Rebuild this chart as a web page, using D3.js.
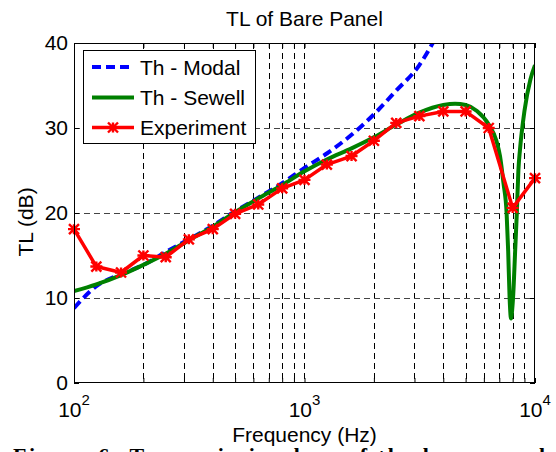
<!DOCTYPE html>
<html><head><meta charset="utf-8">
<script src="https://cdn.jsdelivr.net/npm/d3@7"></script>
<style>
html,body{margin:0;padding:0;background:#fff;}
svg{display:block;}
text{font-family:"Liberation Sans",Arial,Helvetica,sans-serif;fill:#000;}
</style></head>
<body>
<script>
// ---------- data ----------
const modalFreq = [100,125,160,200,250,315,400,500,630,800,1000,1250,1600,2000,2500,3150,3600,3800];
const modalTL   = [8.8,11.4,12.8,13.9,15.4,16.9,18.5,20.2,21.8,23.5,25.3,27.0,29.2,31.6,34.4,37.4,40.0,41.2];

const sewellFreq = [100,125,160,200,250,315,400,500,630,800,1000,1250,1600,2000,2500,3150,4000,4500,5000,5600,6300,6800,7050,7300,7530,7650,7760,7870,7960,8050,8200,8340,8470,8610,9000,9550,10000];
const sewellTL   = [10.8,11.6,12.7,13.9,15.2,16.8,18.4,20.1,21.7,23.3,24.9,26.3,27.6,28.9,30.4,31.8,32.7,32.85,32.7,32.0,30.4,28.5,26.7,23.5,20.0,15.5,10.0,7.6,8.6,10.5,15.5,20.0,25.0,27.5,32.0,35.7,37.4];

const expFreq = [100,125,160,200,250,315,400,500,630,800,1000,1250,1600,2000,2500,3150,4000,5000,6300,8000,10000];
const expTL   = [18.1,13.7,13.0,15.0,14.8,16.9,18.1,19.9,21.0,22.9,23.9,25.7,26.7,28.5,30.6,31.4,31.95,31.95,30.0,20.6,24.1];

const yTicks = [0,10,20,30,40];
const xMajor = [100,1000,10000];
const xMajorExp = ["2","3","4"];
const xMinor = [200,300,400,500,600,700,800,900,2000,3000,4000,5000,6000,7000,8000,9000];
const legendLabels = ["Th - Modal","Th - Sewell","Experiment"];
const colors = ["#0000ff","#008000","#ff0000"];

// ---------- layout ----------
const W = 556, H = 452;
const L = 74, R = 535, T = 43, B = 383;
const svg = d3.select("body").append("svg").attr("width",W).attr("height",H);

const x = d3.scaleLog().domain([100,10000]).range([L,R]);
const y = d3.scaleLinear().domain([0,40]).range([B,T]);

svg.append("defs").append("clipPath").attr("id","clip")
  .append("rect").attr("x",L).attr("y",T).attr("width",R-L).attr("height",B-T);

// grid
const grid = svg.append("g");
grid.selectAll("line.v").data(xMinor.concat([1000])).enter().append("line")
  .attr("x1",d=>Math.round(x(d))+0.5).attr("x2",d=>Math.round(x(d))+0.5)
  .attr("y1",T).attr("y2",B)
  .attr("stroke","#000").attr("stroke-width",1).attr("stroke-dasharray","6,4");
grid.selectAll("line.h").data([10,20,30]).enter().append("line")
  .attr("x1",L).attr("x2",R)
  .attr("y1",d=>Math.round(y(d))+0.5).attr("y2",d=>Math.round(y(d))+0.5)
  .attr("stroke","#444").attr("stroke-width",1).attr("stroke-dasharray","6,4");

// axes ticks
const allX = xMajor.concat(xMinor);
svg.append("g").attr("transform",`translate(0,${B})`)
  .call(d3.axisBottom(x).tickValues(allX).tickSize(-5).tickFormat(""))
  .call(g=>{g.select(".domain").remove(); g.selectAll("line").attr("stroke","#000");});
svg.append("g").attr("transform",`translate(0,${T})`)
  .call(d3.axisTop(x).tickValues(allX).tickSize(-5).tickFormat(""))
  .call(g=>{g.select(".domain").remove(); g.selectAll("line").attr("stroke","#000");});
svg.append("g").attr("transform",`translate(${L},0)`)
  .call(d3.axisLeft(y).tickValues(yTicks).tickSize(-5).tickPadding(6).tickFormat(d3.format("d")))
  .call(g=>{g.select(".domain").remove(); g.selectAll("line").attr("stroke","#000");
    g.selectAll("text").attr("font-size",21).attr("font-family","Liberation Sans, Arial, sans-serif").attr("fill","#000");});
svg.append("g").attr("transform",`translate(${R},0)`)
  .call(d3.axisRight(y).tickValues(yTicks).tickSize(-5).tickFormat(""))
  .call(g=>{g.select(".domain").remove(); g.selectAll("line").attr("stroke","#000");});

// x labels 10^n
xMajor.forEach((v,i)=>{
  const t = svg.append("text").attr("x",x(v)).attr("y",417).attr("text-anchor","middle").attr("font-size",21);
  t.append("tspan").text("10");
  t.append("tspan").attr("dy",-12).attr("font-size",15).text(xMajorExp[i]);
});

// lines
const plot = svg.append("g").attr("clip-path","url(#clip)");
const modalData = modalFreq.map((f,i)=>[f,modalTL[i]]);
const sewellData = sewellFreq.map((f,i)=>[f,sewellTL[i]]);
const expData = expFreq.map((f,i)=>[f,expTL[i]]);

plot.append("path").datum(modalData).attr("d",d3.line().x(d=>x(d[0])).y(d=>y(d[1])).curve(d3.curveMonotoneX))
  .attr("fill","none").attr("stroke",colors[0]).attr("stroke-width",4).attr("stroke-dasharray","9,5");
plot.append("path").datum(sewellData).attr("d",d3.line().x(d=>x(d[0])).y(d=>y(d[1])).curve(d3.curveMonotoneX))
  .attr("fill","none").attr("stroke",colors[1]).attr("stroke-width",4).attr("stroke-linejoin","round");
plot.append("path").datum(expData).attr("d",d3.line().x(d=>x(d[0])).y(d=>y(d[1])))
  .attr("fill","none").attr("stroke",colors[2]).attr("stroke-width",3.5).attr("stroke-linejoin","round");

function star(g,cx,cy){
  const s=5;
  const p = `M${cx-s},${cy-s}L${cx+s},${cy+s}M${cx-s},${cy+s}L${cx+s},${cy-s}M${cx-s-1},${cy}L${cx+s+1},${cy}M${cx},${cy-s}L${cx},${cy+s}`;
  g.append("path").attr("d",p).attr("stroke",colors[2]).attr("stroke-width",2.4).attr("fill","none");
}
const mk = svg.append("g");
expData.forEach(d=>star(mk,x(d[0]),y(d[1])));

// box
svg.append("rect").attr("x",L+0.5).attr("y",T+0.5).attr("width",R-L-1).attr("height",B-T-1)
  .attr("fill","none").attr("stroke","#000").attr("stroke-width",1);

// legend
const lg = svg.append("g");
lg.append("rect").attr("x",83.5).attr("y",50.5).attr("width",172).attr("height",93)
  .attr("fill","#fff").attr("stroke","#000").attr("stroke-width",1);
const rowsY = [67,97.5,127.5];
legendLabels.forEach((lab,i)=>{
  const ln = lg.append("line").attr("x1",92).attr("x2",134).attr("y1",rowsY[i]).attr("y2",rowsY[i])
    .attr("stroke",colors[i]).attr("stroke-width",i===2?3.5:4);
  if(i===0) ln.attr("stroke-dasharray","9,5");
  if(i===2) star(lg,113,rowsY[i]);
  lg.append("text").attr("x",140).attr("y",rowsY[i]+7.5).attr("font-size",21).text(lab);
});

// title and labels
svg.append("text").attr("x",(L+R)/2).attr("y",26).attr("text-anchor","middle").attr("font-size",21).text("TL of Bare Panel");
svg.append("text").attr("x",(L+R)/2).attr("y",442).attr("text-anchor","middle").attr("font-size",21).text("Frequency (Hz)");
svg.append("text").attr("transform","translate(33,222) rotate(-90)").attr("text-anchor","middle").attr("font-size",21).text("TL (dB)");

// caption (cut off at bottom edge, as in the reference)
svg.append("text").attr("x",13).attr("y",463)
  .attr("font-weight","bold").attr("font-size",22).style("font-family","Liberation Serif, Times New Roman, serif")
  .attr("textLength",560).attr("lengthAdjust","spacing")
  .text("Figure 6:  Transmission loss of the bare panel (f");
</script>
</body></html>
